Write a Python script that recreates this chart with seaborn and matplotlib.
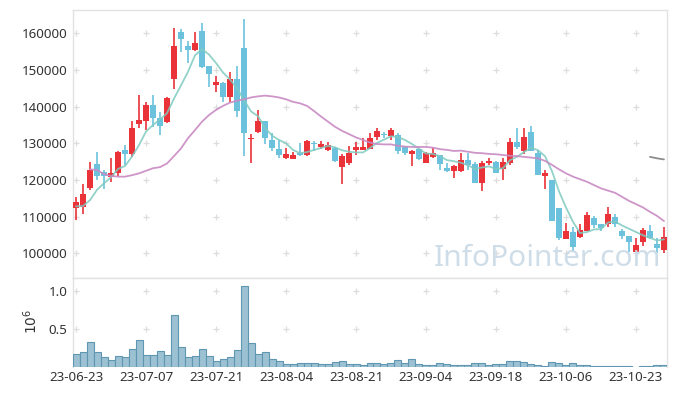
import numpy as np
import pandas as pd
import matplotlib
matplotlib.use("Agg")
import matplotlib.pyplot as plt
import seaborn as sns

# ---------------- data ----------------
holidays = ["2023-08-15", "2023-09-28", "2023-09-29", "2023-10-02", "2023-10-03", "2023-10-09"]
dates = [d for d in pd.bdate_range("2023-06-23", "2023-10-27") if d.strftime("%Y-%m-%d") not in holidays]
date_labels = [d.strftime("%y-%m-%d") for d in dates]

opens = [112300, 112500, 117900, 124300, 122100, 120900, 121800, 128200, 127100, 135300,
         136200, 140400, 136800, 135900, 147500, 160400, 156600, 155400, 160700, 151100,
         145900, 146400, 142500, 147500, 155900, 131100, 133200, 136100, 130900, 128400,
         126100, 125700, 127400, 126800, 130000, 129100, 128200, 128800, 123600, 124500,
         128200, 128200, 128400, 131800, 132600, 132000, 132300, 129100, 127100, 128400,
         124600, 126200, 126800, 123300, 122500, 122500, 125400, 124400, 119300, 124500,
         124800, 122900, 124700, 130300, 128000, 133200, 127300, 121200, 120000, 112300,
         103800, 105700, 104400, 106200, 109500, 107900, 107900, 109800, 106200, 104700,
         100400, 103000, 106200, 102500, 100900]
closes = [114000, 116200, 122700, 121200, 121200, 122000, 127700, 127100, 134200, 136400,
          140400, 136800, 134800, 142400, 156600, 158400, 155400, 157300, 150900, 149000,
          146800, 142700, 147500, 138900, 132900, 131500, 136100, 131400, 128800, 126800,
          127100, 126800, 126800, 130600, 129700, 129700, 129500, 125200, 126600, 127300,
          129100, 129100, 131400, 133400, 132200, 133600, 128000, 127300, 128000, 125600,
          127300, 127300, 124300, 122500, 123900, 125400, 124100, 119300, 124500, 125200,
          122000, 124800, 130300, 129100, 131800, 128000, 121400, 122000, 108900, 104300,
          106100, 101800, 106400, 110400, 107700, 106800, 110600, 108000, 104800, 103200,
          102300, 106400, 104300, 101400, 104400]
highs = [115300, 118900, 124800, 127500, 122700, 125900, 127800, 129500, 136100, 143200,
         141200, 143200, 138500, 142700, 161400, 161100, 158000, 160300, 162700, 151100,
         148400, 146800, 149500, 151100, 163800, 132500, 139100, 136100, 132700, 130900,
         128800, 127700, 130000, 130900, 130700, 130600, 130400, 128900, 127100, 129300,
         130400, 131400, 132700, 134100, 133200, 134100, 132700, 129200, 128200, 128500,
         127500, 128700, 126900, 124500, 124000, 127300, 127300, 124900, 125200, 126000,
         125100, 125900, 131400, 134300, 134100, 134700, 128200, 122700, 120100, 112400,
         108300, 107300, 108000, 111300, 110200, 108000, 112500, 110800, 106600, 104800,
         104100, 106800, 107700, 104100, 107300]
lows = [109100, 110700, 117300, 120000, 117500, 119500, 121200, 124100, 126300, 134100,
        133600, 134500, 132300, 135600, 144700, 155000, 152000, 155200, 150500, 145400,
        144100, 141300, 141200, 137100, 126500, 124700, 132900, 129700, 127900, 126100,
        125700, 125600, 126500, 126500, 128000, 128500, 128000, 125000, 118800, 124000,
        126800, 128100, 128400, 130900, 131400, 130900, 127200, 126800, 123900, 125400,
        124500, 125900, 122700, 122300, 120500, 122300, 122700, 119200, 117100, 124000,
        121900, 120000, 124000, 128400, 127100, 127900, 121300, 117500, 108800, 103700,
        103800, 100400, 104300, 106000, 107000, 106200, 107200, 107300, 104000, 100400,
        100300, 102100, 103900, 100200, 100000]
ma5 = [112800, 112900, 114500, 117300, 119100, 120700, 123000, 123800, 126400, 129500,
       133200, 135000, 136500, 138200, 142200, 145800, 149500, 154000, 155700, 154200,
       151900, 149300, 147400, 145000, 141800, 138700, 137400, 134200, 132100, 130900,
       130000, 128200, 127300, 127600, 128200, 128700, 129300, 128900, 128100, 127700,
       127500, 127500, 128700, 130100, 131000, 131900, 131700, 130900, 129800, 128500,
       127200, 127100, 126500, 125400, 125100, 124700, 124000, 123000, 123400, 123700,
       123000, 123200, 125400, 126300, 127600, 128800, 128100, 126500, 122400, 116900,
       112500, 108600, 105500, 105800, 106500, 106600, 108400, 108700, 107600, 106700,
       105800, 104900, 104200, 103500, 103800]
ma20 = [np.nan, np.nan, 122900, 122700, 121600, 121100, 120900, 120900, 121300, 121800,
        122500, 123200, 123500, 124500, 126500, 128600, 131400, 133600, 135900, 137700,
        139100, 140200, 141100, 141600, 142000, 142500, 142800, 143000, 142800, 142500,
        142000, 141300, 140900, 140200, 138800, 137300, 135900, 134500, 133400, 132500,
        131600, 130900, 130200, 129800, 129700, 129700, 129300, 129100, 129000, 129000,
        129000, 128800, 128400, 128200, 127900, 128000, 127700, 127400, 127300, 127100,
        127000, 126800, 126600, 126500, 126300, 126100, 125900, 125200, 124100, 122900,
        121800, 120900, 120200, 119500, 118600, 117700, 117100, 116500, 115400, 114300,
        113400, 112500, 111300, 110200, 108800]
ma_long = [np.nan] * 82 + [126300, 125900, 125600]
volume = [170, 200, 330, 200, 130, 96, 148, 135, 240, 358,
          161, 161, 214, 161, 686, 266, 135, 148, 240, 148,
          83, 109, 135, 228, 1066, 318, 175, 200, 109, 83,
          40, 40, 57, 57, 57, 44, 44, 66, 83, 44,
          44, 31, 52, 52, 39, 52, 92, 52, 105, 44,
          31, 31, 52, 39, 31, 31, 31, 52, 52, 31,
          44, 44, 79, 79, 66, 44, 26, 17, 66, 52,
          26, 52, 26, 26, 17, 17, 17, 17, 17, 17,
          4, 17, 17, 30, 30]  # thousands of shares
price_ticks = [100000, 110000, 120000, 130000, 140000, 150000, 160000]
vol_ticks = [0.5, 1.0]

# ---------------- style ----------------
sns.set_theme(style="white")
plt.rcParams["font.family"] = ["Noto Sans", "DejaVu Sans"]

UP = "#ea3239"
DOWN = "#6cc2dd"
TXT = "#333333"
SPINE = "#e2e2e2"

n = len(closes)
idx = np.arange(n)
o = np.array(opens, float)
c = np.array(closes, float)
h = np.array(highs, float)
l = np.array(lows, float)
cols = [UP if cc >= oo else DOWN for oo, cc in zip(o, c)]

df = pd.DataFrame({"i": idx, "ma5": ma5, "ma20": ma20, "malong": ma_long,
                   "vol": np.array(volume, float) / 1000.0})

W, H = 677, 396
fig = plt.figure(figsize=(W / 100, H / 100), dpi=100)
L, R = 73, 667
ax = fig.add_axes([L / W, 1 - 278 / H, (R - L) / W, (278 - 10) / H])
axv = fig.add_axes([L / W, 1 - 367.3 / H, (R - L) / W, (367.3 - 278) / H])

# candles
ax.vlines(idx, l, h, colors=cols, linewidth=1.2, zorder=3)
body_lo = np.minimum(o, c)
body_h = np.maximum(np.abs(c - o), 250)
ax.bar(idx, body_h, bottom=body_lo, width=0.76, color=cols, linewidth=0, zorder=4)

# moving averages
sns.lineplot(data=df, x="i", y="ma5", ax=ax, color="#7fcac0", linewidth=1.3, alpha=0.85, zorder=5, errorbar=None)
sns.lineplot(data=df, x="i", y="ma20", ax=ax, color="#c98ac3", linewidth=1.3, alpha=0.9, zorder=5, errorbar=None)
sns.lineplot(data=df, x="i", y="malong", ax=ax, color="#808080", linewidth=1.3, alpha=0.9, zorder=5, errorbar=None)

xlim = (-0.43, n - 1 + 0.43)
ax.set_xlim(*xlim)
ax.set_ylim(93260, 166350)
ax.set_yticks(price_ticks)
ax.set_yticklabels([str(v) for v in price_ticks])
ax.set_xticks(idx[::10])
ax.set_xticklabels([])
ax.set_xlabel("")
ax.set_ylabel("")

# volume
sns.barplot(data=df, x="i", y="vol", ax=axv, native_scale=True, width=1.0,
            color="#9cc1d2", edgecolor="#5f97b3", linewidth=0.8, saturation=1, zorder=3)
axv.set_xlim(*xlim)
axv.set_ylim(0, 1.17)
axv.set_yticks(vol_ticks)
axv.set_yticklabels(["0.5", "1.0"])
axv.set_xticks(idx[::10])
axv.set_xticklabels([date_labels[k] for k in idx[::10]])
axv.set_xlabel("")
axv.set_ylabel("")

# grid crosses
for a, yts in ((ax, price_ticks), (axv, vol_ticks)):
    for xt in idx[::10]:
        for yt in yts:
            a.plot([xt], [yt], marker="+", color="#dddddd", ms=5, mew=0.9, zorder=1)
    for s in ("top", "left", "right", "bottom"):
        a.spines[s].set_color(SPINE)
        a.spines[s].set_linewidth(1.0)
    a.tick_params(length=0, labelsize=9.6, colors=TXT, pad=4)
axv.spines["bottom"].set_visible(False)
axv.tick_params(axis="x", pad=3)

fig.text(32 / W, 1 - 321 / H, r"$10^6$", rotation=90, ha="center", va="center",
         fontsize=10, color=TXT)

# watermark
fig.text(661 / W, 1 - 266 / H, "InfoPointer.com", ha="right", va="baseline",
         fontsize=21.5, color="#c9dae5", alpha=0.9, zorder=10)

fig.savefig("out.png", dpi=100, facecolor="white")
